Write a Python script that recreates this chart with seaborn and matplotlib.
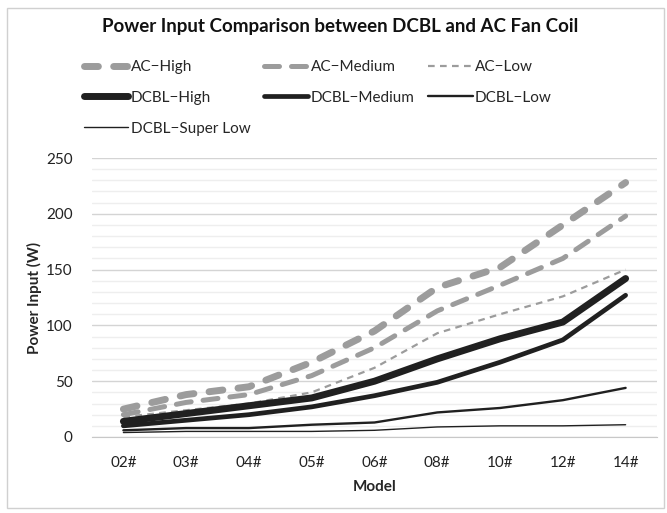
import numpy as np
import pandas as pd
import matplotlib.pyplot as plt
import seaborn as sns
from matplotlib.patches import Rectangle

models = ["02#", "03#", "04#", "05#", "06#", "08#", "10#", "12#", "14#"]

ac_high = [25, 38, 45, 67, 95, 134, 152, 190, 228]
ac_medium = [20, 31, 38, 55, 80, 113, 136, 160, 198]
ac_low = [18, 24, 30, 40, 62, 93, 110, 126, 150]
dcbl_high = [14, 21, 28, 35, 50, 70, 88, 103, 142]
dcbl_medium = [10, 15, 20, 27, 37, 49, 67, 87, 127]
dcbl_low = [6, 8, 8, 11, 13, 22, 26, 33, 44]
dcbl_super_low = [4, 5, 5, 5, 6, 9, 10, 10, 11]

series_names = ["AC−High", "AC−Medium", "AC−Low",
                "DCBL−High", "DCBL−Medium", "DCBL−Low", "DCBL−Super Low"]
series_values = [ac_high, ac_medium, ac_low,
                 dcbl_high, dcbl_medium, dcbl_low, dcbl_super_low]

sns.set_style("white")
plt.rcParams['font.family'] = ['Lato', 'DejaVu Sans']

gray = "#9c9c9c"
black = "#202020"
styles = {
    "AC−High": dict(color=gray, lw=5.0, dashes=(2.0, 2.2)),
    "AC−Medium": dict(color=gray, lw=3.6, dashes=(3.0, 2.4)),
    "AC−Low": dict(color=gray, lw=1.6, dashes=(3.0, 2.4)),
    "DCBL−High": dict(color=black, lw=5.0, dashes=None),
    "DCBL−Medium": dict(color=black, lw=3.4, dashes=None),
    "DCBL−Low": dict(color=black, lw=1.7, dashes=None),
    "DCBL−Super Low": dict(color=black, lw=1.0, dashes=None),
}

fig = plt.figure(figsize=(6.67, 5.13), dpi=100)
ax = fig.add_axes([92 / 667, 1 - 437 / 513, 565 / 667, 279 / 513])

for name, vals in zip(series_names, series_values):
    st = styles[name]
    df = pd.DataFrame({"Model": models, "Power": vals})
    sns.lineplot(data=df, x="Model", y="Power", ax=ax, color=st["color"],
                 linewidth=st["lw"], label=name, sort=False)
    l = ax.lines[-1]
    if st["dashes"] is not None:
        l.set_dashes(st["dashes"])
        l.set_dash_capstyle("round" if st["lw"] > 2 else "butt")

ax.set_xlim(-0.5, len(models) - 0.5)
ax.set_ylim(0, 250)
ax.set_yticks(np.arange(0, 251, 50))
ax.set_yticks(np.arange(0, 251, 10), minor=True)
ax.yaxis.grid(True, which="major", color="#d4d4d4", lw=1.0)
ax.yaxis.grid(True, which="minor", color="#eeeeee", lw=1.0)
ax.set_axisbelow(True)

ax.set_xticks(np.arange(-0.5, len(models), 1))
ax.set_xticklabels([])
ax.set_xticks(np.arange(len(models)), minor=True)
ax.set_xticklabels(models, minor=True, fontsize=11, color="#222222")
ax.tick_params(axis="x", which="major", length=6, color="#c8c8c8", direction="out")
ax.tick_params(axis="x", which="minor", length=0, pad=14)
ax.tick_params(axis="y", which="both", length=0, labelsize=11, labelcolor="#222222", pad=14)

for s in ["top", "right", "left"]:
    ax.spines[s].set_visible(False)
ax.spines["bottom"].set_color("#c8c8c8")

ax.set_xlabel("Model", fontsize=11, fontweight="bold", labelpad=7)
ax.set_ylabel("Power Input (W)", fontsize=11, fontweight="bold", labelpad=3)

# row-wise legend order for 3 columns
handles, labels = ax.get_legend_handles_labels()
order = [0, 3, 6, 1, 4, 2, 5]
ax.legend([handles[i] for i in order], [labels[i] for i in order],
          loc="upper left", bbox_to_anchor=(84 / 667, 1 - 60 / 513),
          bbox_transform=fig.transFigure, ncol=3, frameon=False,
          fontsize=11, handlelength=2.9, labelspacing=1.1, columnspacing=0.9,
          handletextpad=0.15, borderaxespad=0, borderpad=0)

fig.text(0.51, 1 - 27 / 513, "Power Input Comparison between DCBL and AC Fan Coil",
         ha="center", va="center", fontsize=13.5, fontweight="bold", color="#111111")

fig.patches.append(Rectangle((7 / 667, 5 / 513), 657 / 667, 500 / 513,
                             transform=fig.transFigure, fill=False,
                             edgecolor="#d0d0d0", lw=1.0))

fig.savefig("out.png", dpi=100)
